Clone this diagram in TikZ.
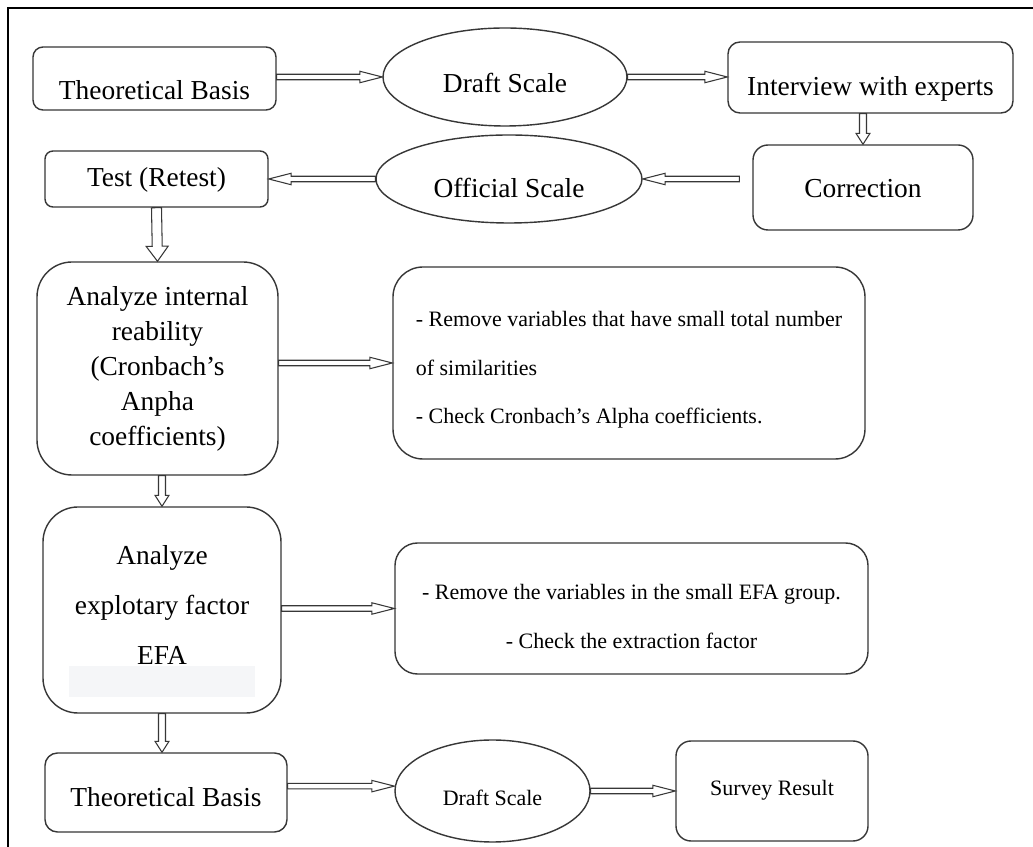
\documentclass[tikz,border=0pt]{standalone}
\usepackage{fontspec}
\setmainfont{Liberation Serif}
\usetikzlibrary{shapes.geometric,calc}
\definecolor{boxline}{RGB}{55,55,55}
\definecolor{efashade}{RGB}{245,246,248}

\tikzset{
  box/.style={draw=boxline, line width=0.8pt, rectangle, inner sep=0.1cm},
  oval/.style={draw=boxline, line width=0.8pt, ellipse, inner sep=0pt},
  oneline/.style={text depth=0pt, text height=#1},
  smalltext/.style={font=\fontsize{12.5}{27.6}\selectfont},
  flow/.style={draw=boxline, line width=0.6pt},
  % hollow block arrow: shaft half width, head half width, head length
  hollow/.style n args={3}{to path={
      let \p1=(\tikztostart), \p2=(\tikztotarget),
          \n1={atan2(\y2-\y1,\x2-\x1)}, \n2={veclen(\x2-\x1,\y2-\y1)} in
      {[shift={(\p1)}, rotate=\n1]
       (0pt,-#1) -- ({\n2-#3},-#1) -- ({\n2-#3},-#2) -- ({\n2*1pt},0pt)
       -- ({\n2-#3},#2) -- ({\n2-#3},#1) -- (0pt,#1) -- cycle}}},
  hflow/.style={hollow={0.055cm}{0.115cm}{0.45cm}},
  vflow/.style={hollow={0.07cm}{0.14cm}{0.22cm}},
  bigflow/.style={hollow={0.1cm}{0.22cm}{0.3cm}}
}

\begin{document}
\begin{tikzpicture}[font=\fontsize{15.6}{19.9}\selectfont]
\useasboundingbox (0,0) rectangle (20.66,16.94);
\fill[white] (0,0) rectangle (20.66,16.94);
% frame
\draw[line width=1.6pt] (0.16,0) -- (0.16,16.78) -- (20.66,16.78);

% first row
\node[box, rounded corners=0.2cm, minimum width=4.86cm, minimum height=1.26cm, oneline=0.86cm] (basis) at (3.09,15.37) {Theoretical Basis};
\node[oval, minimum width=4.88cm, minimum height=1.96cm, oneline=0.64cm] (draft) at (10.10,15.40) {Draft Scale};
\node[box, rounded corners=0.24cm, minimum width=5.70cm, minimum height=1.42cm, oneline=0.74cm] (interview) at (17.41,15.39) {Interview with experts};

% second row
\node[box, rounded corners=0.3cm, minimum width=4.40cm, minimum height=1.70cm, oneline=0.42cm] (correction) at (17.26,13.19) {Correction};
\node[oval, minimum width=5.32cm, minimum height=1.76cm, oneline=0.76cm] (official) at (10.18,13.36) {Official Scale};
\node[box, rounded corners=0.16cm, minimum width=4.46cm, minimum height=1.12cm, oneline=0.32cm] (test) at (3.13,13.36) {Test (Retest)};

% reliability
\node[box, rounded corners=0.7cm, minimum width=4.82cm, minimum height=4.26cm, align=center] (internal) at (3.15,9.57) {Analyze internal\\reability\\(Cronbach’s\\Anpha\\coefficients)};
\node[box, smalltext, rounded corners=0.6cm, minimum width=9.44cm, minimum height=3.84cm, align=left] (alpha) at (12.58,9.68) {\rule{0pt}{0.59cm}- Remove variables that have small total number\\of similarities\\- Check Cronbach's Alpha coefficients.};

% EFA
\fill[efashade] (1.38,3.00) rectangle (5.10,3.62);
\node[box, rounded corners=0.7cm, minimum width=4.76cm, minimum height=4.12cm, align=center, font=\fontsize{15.6}{28.2}\selectfont] (efa) at (3.24,4.74) {Analyze\\explotary factor\\EFA\rule[-0.2cm]{0pt}{0.2cm}};
\node[box, smalltext, rounded corners=0.45cm, minimum width=9.46cm, minimum height=2.62cm, align=center] (extract) at (12.63,4.77) {\rule{0pt}{0.63cm}- Remove the variables in the small EFA group.\\- Check the extraction factor};

% last row
\node[box, rounded corners=0.25cm, minimum width=4.84cm, minimum height=1.58cm, oneline=0.58cm] (basis2) at (3.32,1.09) {Theoretical Basis};
\node[oval, smalltext, minimum width=3.90cm, minimum height=2.04cm, oneline=0.60cm] (draft2) at (9.85,1.12) {Draft Scale};
\node[box, smalltext, rounded corners=0.3cm, minimum width=3.84cm, minimum height=2.00cm, oneline=0.20cm] (survey) at (15.44,1.12) {Survey Result};

% arrows
\draw[flow] (basis.east |- draft.west) to[hflow] (draft.west);
\draw[flow] (draft.east) to[hflow] (draft.east -| interview.west);
\draw[flow] (correction.north |- interview.south) to[vflow] (correction.north);
\draw[flow] ($(official.east -| correction.west)+(-0.26,0)$) to[hflow] (official.east);
\draw[flow] (official.west) to[hflow] (test.east);
\draw[flow] (test.south) to[bigflow] (internal.north);
\draw[flow] (internal.east |- alpha.west) to[hflow] (alpha.west);
\draw[flow] (efa.north |- internal.south) to[vflow] (efa.north);
\draw[flow] (efa.east |- extract.west) to[hflow] (extract.west);
\draw[flow] (efa.south) to[vflow] (efa.south |- basis2.north);
\draw[flow] (basis2.3) to[hflow] (basis2.3 -| draft2.west);
\draw[flow] (draft2.east) to[hflow] (draft2.east -| survey.west);
\end{tikzpicture}
\end{document}
